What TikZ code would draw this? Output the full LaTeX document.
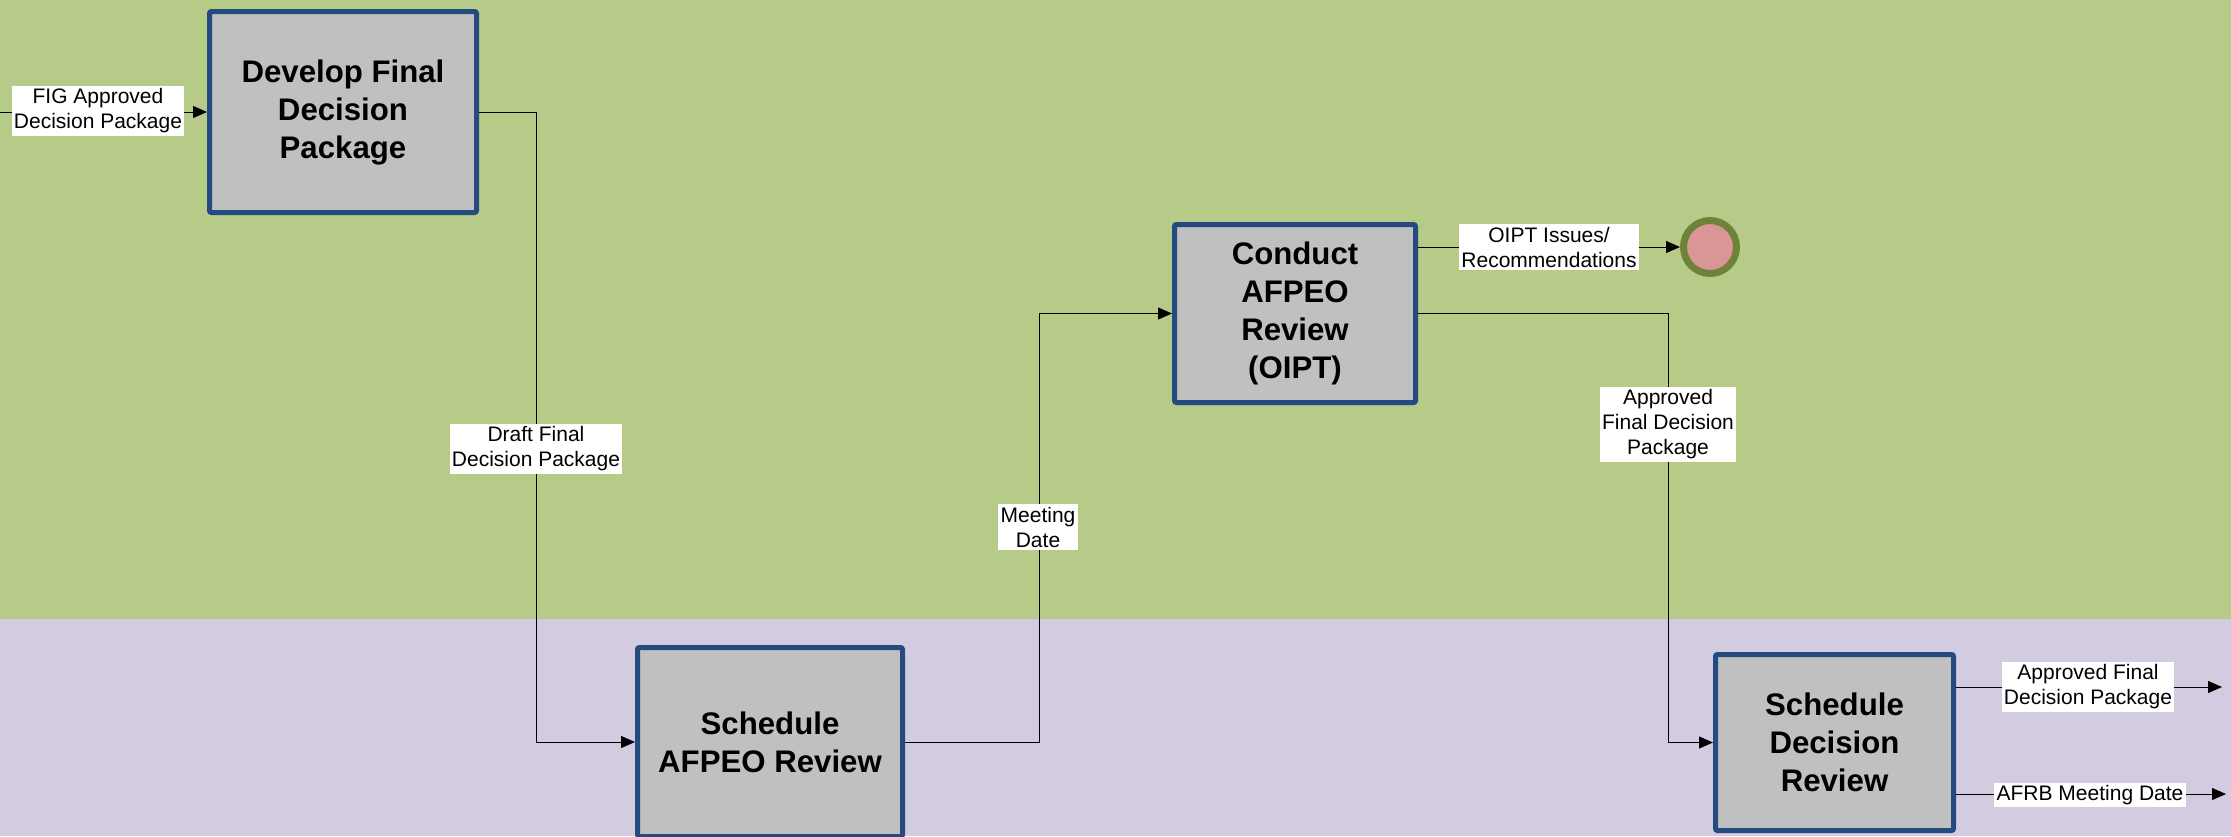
\documentclass[tikz,border=0pt]{standalone}
\usepackage{fontspec}
\setmainfont{Liberation Sans}
\usetikzlibrary{arrows.meta}
\definecolor{lanegreen}{HTML}{B7CB88}
\definecolor{lanepurple}{HTML}{D3CBE0}
\definecolor{boxedge}{HTML}{254A80}
\definecolor{boxfill}{HTML}{C0C0C0}
\definecolor{stopfill}{HTML}{D99694}
\definecolor{stopedge}{HTML}{6E833A}
\tikzset{px/.style={x=.5pt,y=-.5pt,line width=.5pt},
  task/.style={draw=boxedge,fill=boxfill,line width=2.5pt,rounded corners=1pt,align=center,
    inner sep=0pt,font=\fontsize{15.6}{19}\selectfont\bfseries},
  lbl/.style={fill=white,inner sep=1.2pt,align=center,font=\fontsize{10.5}{12.5}\selectfont},
  flow/.style={-{Triangle[length=7pt,width=6pt]}}}

\begin{document}
\begin{tikzpicture}[px]
  \clip (0,0) rectangle (2231,836);
  % lanes
  \fill[lanegreen] (0,0) rectangle (2231,619);
  \fill[lanepurple] (0,619) rectangle (2231,836);
  % tasks
  \node[task,minimum width=133.5pt,minimum height=100.5pt] (develop) at (343,112) {Develop Final\\Decision\\Package};
  \node[task,minimum width=120.5pt,minimum height=89pt] (conduct) at (1295,313.5) {Conduct\\AFPEO\\Review\\(OIPT)};
  \node[task,minimum width=132.5pt,minimum height=94.5pt] (schedafpeo) at (770,742) {Schedule\\AFPEO Review};
  \node[task,minimum width=119pt,minimum height=88pt] (scheddec) at (1834.5,742.5) {Schedule\\Decision\\Review};
  \node[circle,draw=stopedge,fill=stopfill,line width=3.5pt,minimum size=26.5pt,inner sep=0pt] (stop) at (1710,247) {};
  % free ends and bends
  \coordinate (inlet) at (0,112);
  \coordinate (outpkg) at (2222,687);
  \coordinate (outdate) at (2226,794);
  \coordinate (benddraft) at (536,742);
  \coordinate (bendmeet) at (1039,313.5);
  \coordinate (bendappr) at (1668,742.5);
  % flows
  \draw[flow] (inlet) -- (develop);
  \draw[flow] (develop.east) -| (benddraft) -- (schedafpeo.west);
  \draw[flow] (schedafpeo.east) -| (bendmeet) -- (conduct.west);
  \draw[flow] (conduct.east |- stop) -- (stop);
  \draw[flow] (conduct.east) -| (bendappr) -- (scheddec.west);
  \draw[flow] (scheddec.east |- outpkg) -- (outpkg);
  \draw[flow] (scheddec.east |- outdate) -- (outdate);
  % flow labels
  \node[lbl] (lfig) at (98,111) {FIG Approved\\Decision Package};
  \node[lbl] (ldraft) at (536,449) {Draft Final\\Decision Package};
  \node[lbl] (lmeet) at (1038,527) {Meeting\\Date};
  \node[lbl] (loipt) at (1549,247) {OIPT Issues/\\Recommendations};
  \node[lbl] (lappr) at (1668,424.5) {Approved\\Final Decision\\Package};
  \node[lbl] (lapprout) at (2088,687) {Approved Final\\Decision Package};
  \node[lbl] (lafrb) at (2090,795) {AFRB Meeting Date};
\end{tikzpicture}
\end{document}
